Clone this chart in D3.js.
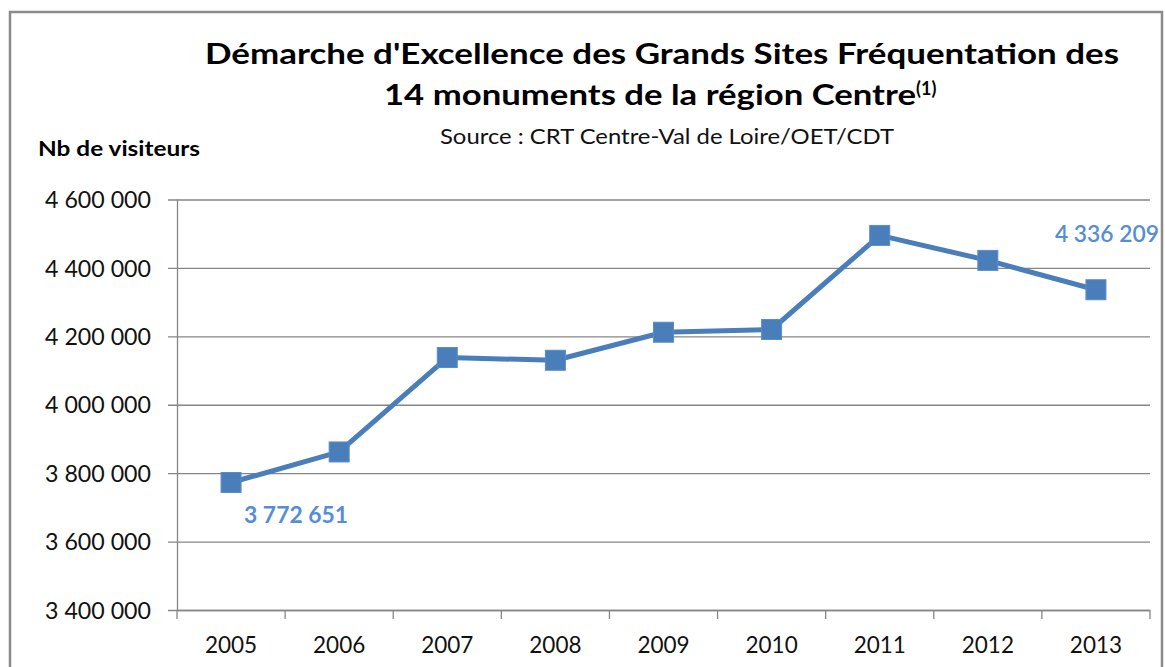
<!DOCTYPE html>
<html>
<head>
<meta charset="utf-8">
<script src="https://cdn.jsdelivr.net/npm/d3@7/dist/d3.min.js"></script>
<style>
  html, body { margin: 0; padding: 0; background: #fff; }
  svg { display: block; }
  text { font-family: Lato, "Open Sans", sans-serif; }
</style>
</head>
<body>
<svg id="chart" width="1165" height="667"></svg>
<script>
// ---- Data ----
const years = ["2005", "2006", "2007", "2008", "2009", "2010", "2011", "2012", "2013"];
const visitors = [3772651, 3862000, 4138000, 4130000, 4212000, 4220000, 4495000, 4422000, 4336209];
const yTicks = [3400000, 3600000, 3800000, 4000000, 4200000, 4400000, 4600000];
const titleLines = ["Démarche d'Excellence des Grands Sites Fréquentation des", "14 monuments de la région Centre"];
const titleSup = "(1)";
const sourceText = "Source : CRT Centre-Val de Loire/OET/CDT";
const yAxisTitle = "Nb de visiteurs";
const labelledIdx = [0, 8];

// ---- Setup ----
const svg = d3.select("#chart");
const plot = { left: 177, right: 1150, top: 199.5, bottom: 610 };
const lineColor = "#4A7EBB";
const labelColor = "#558ED5";
const gridColor = "#868686";

const fr = d3.formatLocale({ decimal: ",", thousands: "\u00a0", grouping: [3], currency: ["", " €"] });
const fmt = fr.format(",d");

// Outer frame
svg.append("rect")
  .attr("x", 10).attr("y", 12)
  .attr("width", 1152).attr("height", 700)
  .attr("fill", "none").attr("stroke", "#8a8a8a").attr("stroke-width", 2.5);

const x = d3.scaleBand().domain(years).range([plot.left, plot.right]).padding(0);
const y = d3.scaleLinear().domain([3400000, 4600000]).range([plot.bottom, plot.top]);
const cx = d => x(d) + x.bandwidth() / 2;

// Gridlines + Y axis
const yAxis = d3.axisLeft(y).tickValues(yTicks).tickFormat(fmt).tickSize(9).tickPadding(17);
const gy = svg.append("g").attr("transform", `translate(${plot.left},0)`).call(yAxis);
gy.select(".domain").attr("stroke", gridColor).attr("stroke-width", 1.3).attr("d", `M0.5,${plot.top}V${plot.bottom}`);
gy.selectAll(".tick line").attr("stroke", gridColor).attr("stroke-width", 1.3)
  .attr("x1", -9).attr("x2", plot.right - plot.left);
gy.selectAll(".tick text")
  .attr("fill", "#111").style("font-size", "22.5px")
  .attr("dy", "0.36em")
  .attr("textLength", 106).attr("lengthAdjust", "spacingAndGlyphs");

// X axis
const xAxis = d3.axisBottom(x).tickSize(0).tickPadding(0);
const gx = svg.append("g").attr("transform", `translate(0,${plot.bottom})`).call(xAxis);
gx.select(".domain").attr("stroke", gridColor).attr("stroke-width", 1.3)
  .attr("d", `M${plot.left},0.5H${plot.right}`);
gx.selectAll(".tick text").attr("fill", "#111").style("font-size", "22.5px")
  .attr("y", 43).attr("dy", 0);
// band boundary ticks
const boundaries = years.map(d => x(d)).concat([plot.right]);
gx.selectAll(".bt").data(boundaries).enter().append("line")
  .attr("class", "bt")
  .attr("x1", d => d).attr("x2", d => d)
  .attr("y1", 0).attr("y2", 9)
  .attr("stroke", gridColor).attr("stroke-width", 1.3);

// Line
const line = d3.line().x((d, i) => cx(years[i])).y(d => y(d));
svg.append("path").datum(visitors)
  .attr("d", line).attr("fill", "none")
  .attr("stroke", lineColor).attr("stroke-width", 5).attr("stroke-linejoin", "round");

// Markers
const ms = 20;
svg.selectAll(".marker").data(visitors).enter().append("rect")
  .attr("class", "marker")
  .attr("x", (d, i) => cx(years[i]) - ms / 2)
  .attr("y", d => y(d) - ms / 2)
  .attr("width", ms).attr("height", ms)
  .attr("fill", lineColor).attr("stroke", "#5a8cc8").attr("stroke-width", 1);

// Data labels
svg.append("text")
  .attr("x", cx(years[labelledIdx[0]]) + 65).attr("y", y(visitors[labelledIdx[0]]) + 40)
  .attr("text-anchor", "middle").attr("fill", labelColor)
  .style("font-size", "22px").style("font-weight", "bold")
  .attr("textLength", 104).attr("lengthAdjust", "spacingAndGlyphs")
  .text(fmt(visitors[labelledIdx[0]]));
svg.append("text")
  .attr("x", cx(years[labelledIdx[1]]) + 11).attr("y", y(visitors[labelledIdx[1]]) - 48)
  .attr("text-anchor", "middle").attr("fill", labelColor)
  .style("font-size", "22px").style("font-weight", "600")
  .attr("textLength", 104).attr("lengthAdjust", "spacingAndGlyphs")
  .text(fmt(visitors[labelledIdx[1]]));

// Titles
const tcx = 662;
svg.append("text").attr("x", tcx).attr("y", 64).attr("text-anchor", "middle")
  .style("font-size", "29px").style("font-weight", "bold").attr("fill", "#000")
  .attr("textLength", 914).attr("lengthAdjust", "spacingAndGlyphs")
  .text(titleLines[0]);
const t2 = svg.append("text").attr("x", 384).attr("y", 105).attr("text-anchor", "start")
  .style("font-size", "29px").style("font-weight", "bold").attr("fill", "#000");
t2.append("tspan").attr("textLength", 532).attr("lengthAdjust", "spacingAndGlyphs").text(titleLines[1]);
t2.append("tspan").attr("dy", -10).style("font-size", "18px").text(titleSup);

svg.append("text").attr("x", 667).attr("y", 144).attr("text-anchor", "middle")
  .style("font-size", "20.5px").attr("fill", "#111")
  .attr("textLength", 454).attr("lengthAdjust", "spacingAndGlyphs")
  .text(sourceText);

svg.append("text").attr("x", 38).attr("y", 156)
  .style("font-size", "20px").style("font-weight", "bold").attr("fill", "#000")
  .attr("textLength", 162).attr("lengthAdjust", "spacingAndGlyphs")
  .text(yAxisTitle);
</script>
</body>
</html>
